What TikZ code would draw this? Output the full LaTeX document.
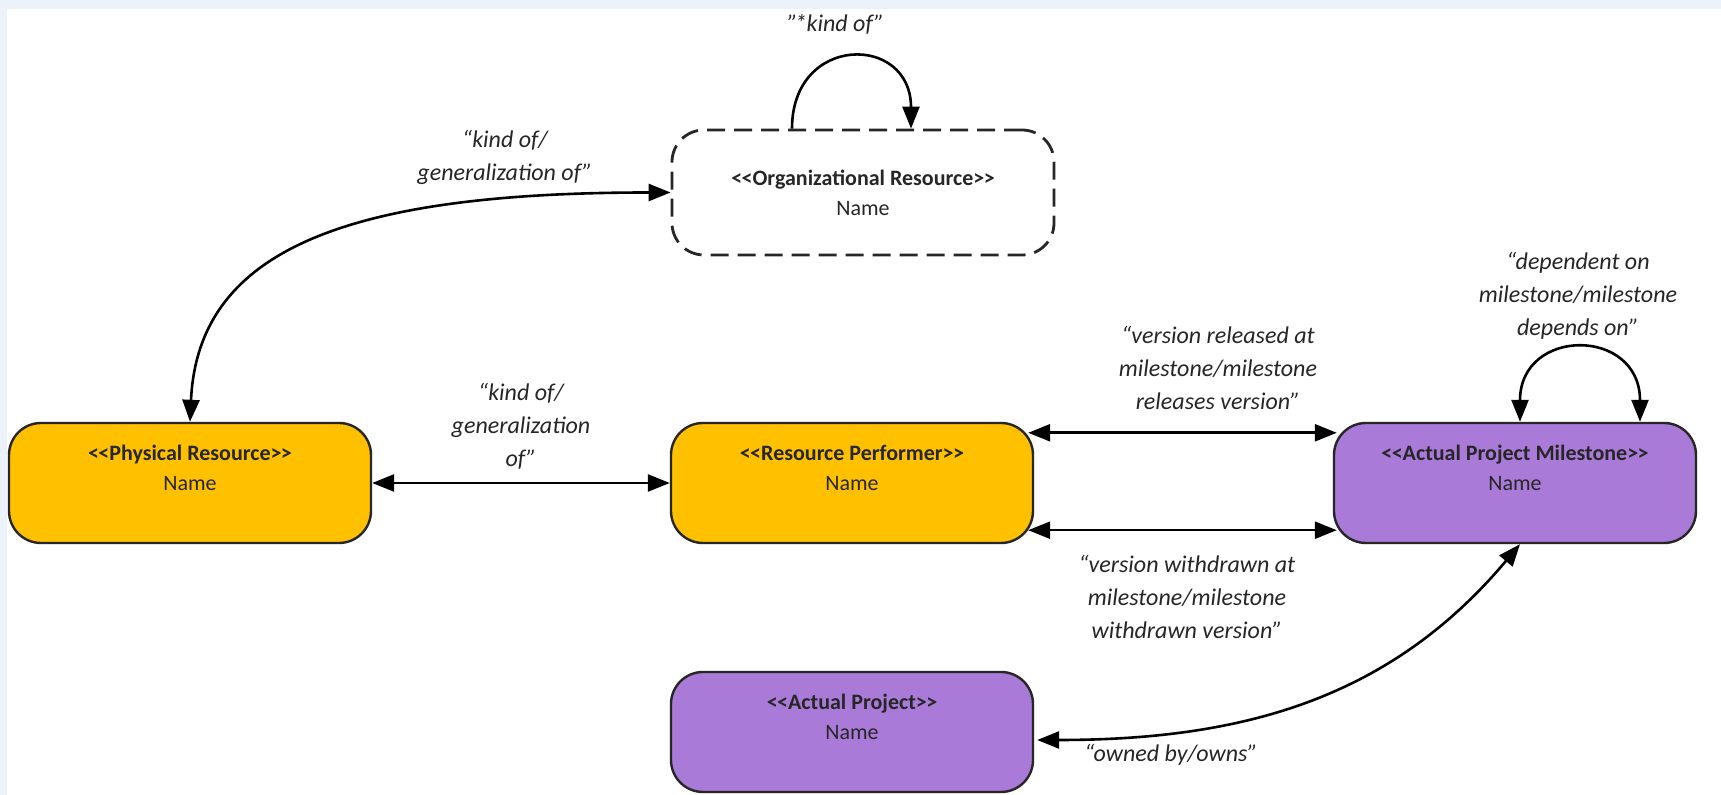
\documentclass[tikz,border=0pt]{standalone}
\usepackage{fontspec}
\setmainfont{Carlito}
\usetikzlibrary{arrows.meta,calc}
\definecolor{gold}{RGB}{255,192,0}
\definecolor{lilac}{RGB}{170,122,216}
\definecolor{edgeblue}{RGB}{236,242,250}
\newcommand\stereo[1]{<\kern-0.3pt<#1>\kern-0.3pt>}
\begin{document}
\begin{tikzpicture}[x=0.5pt,y=-0.5pt,
  box/.style={draw=black!85, line width=1.2pt, rounded corners=16pt,
    minimum width=181pt, minimum height=60pt, inner sep=0pt},
  goldbox/.style={box, fill=gold},
  lilacbox/.style={box, fill=lilac},
  dashbox/.style={box, fill=white, line width=1.4pt, dash pattern=on 9pt off 4.5pt,
    minimum width=191pt, minimum height=62.5pt},
  ntext/.style={font=\fontsize{11}{15}\selectfont, align=center, text=black!85, inner sep=0pt},
  lbl/.style={font=\fontsize{12}{16.5}\selectfont\itshape, align=center, text=black!85, inner sep=0pt},
  conn/.style={line width=1.3pt, draw=black},
  >={Triangle[length=11pt,width=8.5pt]}
]
\useasboundingbox (0,0) rectangle (1721,795);
\fill[white] (0,0) rectangle (1721,795);
\fill[edgeblue] (0,0) rectangle (1721,9);
\fill[edgeblue] (0,0) rectangle (7,795);

% nodes
\node[dashbox] (or) at (863,192.5) {};
\node[ntext] (ort) at (or.center) {\textbf{\stereo{Organizational Resource}}\\Name};

\node[goldbox] (pr) at (190,483) {};
\node[ntext] (prt) at ($(pr.center)+(0,-15)$) {\textbf{\stereo{Physical Resource}}\\Name};

\node[goldbox] (rp) at (852,483) {};
\node[ntext] (rpt) at ($(rp.center)+(0,-15)$) {\textbf{\stereo{Resource Performer}}\\Name};

\node[lilacbox] (apm) at (1515,483) {};
\node[ntext] (apmt) at ($(apm.center)+(0,-15)$) {\textbf{\stereo{Actual Project Milestone}}\\Name};

\node[lilacbox] (ap) at (852,732) {};
\node[ntext] (apt) at ($(ap.center)+(0,-15)$) {\textbf{\stereo{Actual Project}}\\Name};

% connectors
\draw[conn,<->] (pr.north) .. controls +(8,-173) and +(-322,0) .. (or.west);
\coordinate (orl) at ($(or.north)+(-71,0)$);
\coordinate (orr) at ($(or.north)+(48,0)$);
\draw[conn,->] (orl) .. controls +(0,-95) and +(0,-95) .. (orr);

\draw[conn,<->] (pr.east) -- (rp.west);

\coordinate (rpu) at ($(rp.north east)+(-6,11)$);
\coordinate (apmu) at ($(apm.north west)+(4,11)$);
\draw[conn,<->] (rpu) -- (apmu);
\coordinate (rpd) at ($(rp.south east)+(-6,-14)$);
\coordinate (apmd) at ($(apm.south west)+(4,-14)$);
\draw[conn,<->] (rpd) -- (apmd);

\coordinate (apml) at ($(apm.north)+(5,0)$);
\coordinate (apmr) at ($(apm.north)+(125,0)$);
\draw[conn,<->] (apml) .. controls +(0,-95) and +(0,-95) .. (apmr);

\coordinate (ape) at ($(ap.east)+(3,8)$);
\coordinate (apmb) at ($(apm.south)+(5,0)$);
\draw[conn,<->] (ape) to[out=0,in=230] (apmb);

% labels
\node[lbl] (l1) at (505,157) {“kind of/\\generalization of”};
\node[lbl] (l2) at (836,24) {”\kern-1.5pt*kind of”};
\node[lbl] (l3) at (521,426) {“kind of/\\generalization\\of”};
\node[lbl] (l4) at (1218,368) {“version released at\\milestone/milestone\\releases version”};
\node[lbl] (l5) at (1187,597) {“version withdrawn at\\milestone/milestone\\withdrawn version”};
\node[lbl] (l6) at (1578,296) {“dependent on\\milestone/milestone\\depends on”};
\node[lbl] (l7) at (1171,755) {“owned by/owns”};
\end{tikzpicture}
\end{document}
